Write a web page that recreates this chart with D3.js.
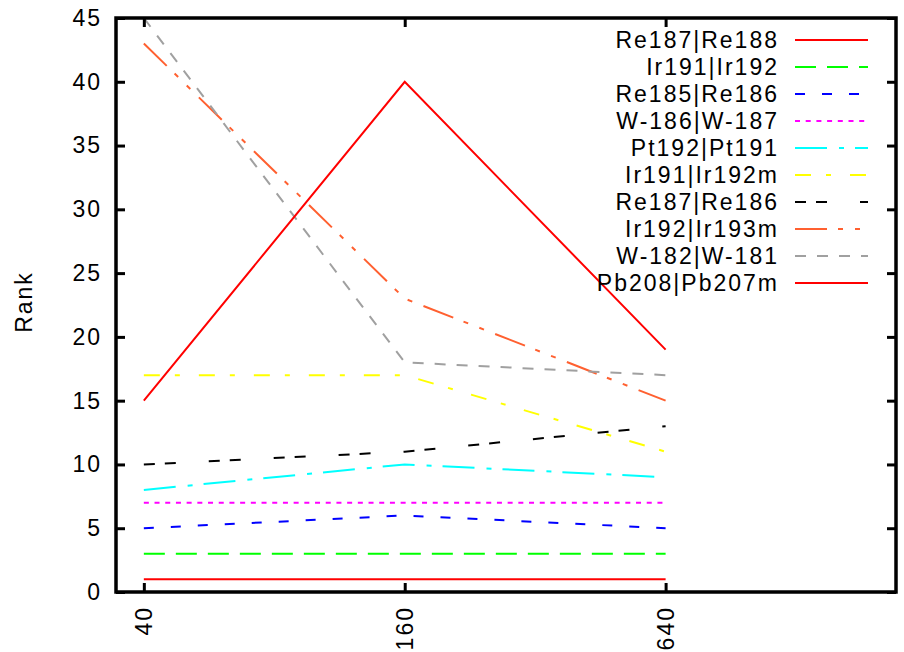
<!DOCTYPE html>
<html>
<head>
<meta charset="utf-8">
<script src="https://cdn.jsdelivr.net/npm/d3@7"></script>
<style>
  body { margin: 0; background: #fff; }
  text { font-family: "Liberation Sans", Arial, sans-serif; fill: #000; letter-spacing: 2px; }
</style>
</head>
<body>
<div id="chart"></div>
<script>
// chart values
var xValues = [40, 160, 640];
var yTicks = [0, 5, 10, 15, 20, 25, 30, 35, 40, 45];
var seriesNames = ["Re187|Re188", "Ir191|Ir192", "Re185|Re186", "W-186|W-187", "Pt192|Pt191",
                   "Ir191|Ir192m", "Re187|Re186", "Ir192|Ir193m", "W-182|W-181", "Pb208|Pb207m"];
var seriesValues = [
    [1, 1, 1],
    [3, 3, 3],
    [5, 6, 5],
    [7, 7, 7],
    [8, 10, 9],
    [17, 17, 11],
    [10, 11, 13],
    [43, 23, 15],
    [45, 18, 17],
    [15, 40, 19]
];
var seriesColors = ["#ff0000", "#00ff00", "#0000ff", "#ff00ff", "#00ffff",
                    "#ffff00", "#000000", "#ff6030", "#a0a0a0", "#ff0000"];
var seriesDashes = ["none", "21,11", "10,17", "5,5.7", "32,12,5,11",
                    "16,15,5,19", "11,10,11,33", "32,11,5,12,5,12", "11,11", "none"];

var svgWidth = 904;
var svgHeight = 652;

var margin = {top: 18, right: 8, bottom: 60, left: 116};
var width = svgWidth - margin.left - margin.right;
var height = svgHeight - margin.top - margin.bottom;

var svg = d3.select("#chart")
    .append("svg")
    .attr("width", svgWidth)
    .attr("height", svgHeight);

var chartGroup = svg.append("g")
    .attr("transform", `translate(${margin.left}, ${margin.top})`);

// log x axis, like gnuplot
var xScale = d3.scaleLog()
    .domain([34.5, 2177])
    .range([0, width]);

var yScale = d3.scaleLinear()
    .domain([0, 45])
    .range([height, 0]);

// lines
var line = d3.line()
    .x((d, i) => xScale(xValues[i]))
    .y(d => yScale(d));

chartGroup.selectAll(".series")
    .data(seriesValues)
    .enter()
    .append("path")
    .attr("class", "series")
    .attr("d", d => line(d))
    .attr("fill", "none")
    .attr("stroke", (d, i) => seriesColors[i])
    .attr("stroke-width", 2)
    .attr("stroke-dasharray", (d, i) => seriesDashes[i]);

// axes with inward ticks, mirrored
var tickLen = 9;
var leftAxis = d3.axisLeft(yScale).tickValues(yTicks).tickSize(-tickLen).tickPadding(tickLen + 5);
var rightAxis = d3.axisRight(yScale).tickValues(yTicks).tickSize(-tickLen).tickFormat("");
var bottomAxis = d3.axisBottom(xScale).tickValues(xValues).tickSize(-tickLen).tickFormat(d3.format("d"));
var topAxis = d3.axisTop(xScale).tickValues(xValues).tickSize(-tickLen).tickFormat("");

var yAxisG = chartGroup.append("g").call(leftAxis);
chartGroup.append("g").attr("transform", `translate(${width}, 0)`).call(rightAxis);
var xAxisG = chartGroup.append("g").attr("transform", `translate(0, ${height})`).call(bottomAxis);
chartGroup.append("g").call(topAxis);

chartGroup.selectAll(".domain").remove();
chartGroup.selectAll(".tick line").attr("stroke", "#000").attr("stroke-width", 3);

yAxisG.selectAll("text")
    .style("font-size", "23px");

xAxisG.selectAll("text")
    .style("font-size", "23px")
    .attr("transform", "rotate(-90)")
    .attr("text-anchor", "end")
    .attr("x", -14)
    .attr("y", 0)
    .attr("dy", "0.35em");

// frame
chartGroup.append("rect")
    .attr("width", width)
    .attr("height", height)
    .attr("fill", "none")
    .attr("stroke", "#000")
    .attr("stroke-width", 3.5);

// y label
svg.append("text")
    .attr("transform", `translate(32, ${margin.top + 284}) rotate(-90)`)
    .attr("text-anchor", "middle")
    .style("font-size", "23px")
    .text("Rank");

// legend
var legend = svg.append("g")
    .attr("transform", "translate(779, 40)");

var legendRows = legend.selectAll(".row")
    .data(seriesNames)
    .enter()
    .append("g")
    .attr("transform", (d, i) => `translate(0, ${i * 27})`);

legendRows.append("text")
    .attr("text-anchor", "end")
    .attr("dy", "0.35em")
    .style("font-size", "23px")
    .text(d => d);

legendRows.append("line")
    .attr("x1", 16)
    .attr("x2", 89)
    .attr("stroke", (d, i) => seriesColors[i])
    .attr("stroke-width", 2)
    .attr("stroke-dasharray", (d, i) => seriesDashes[i]);
</script>
</body>
</html>
